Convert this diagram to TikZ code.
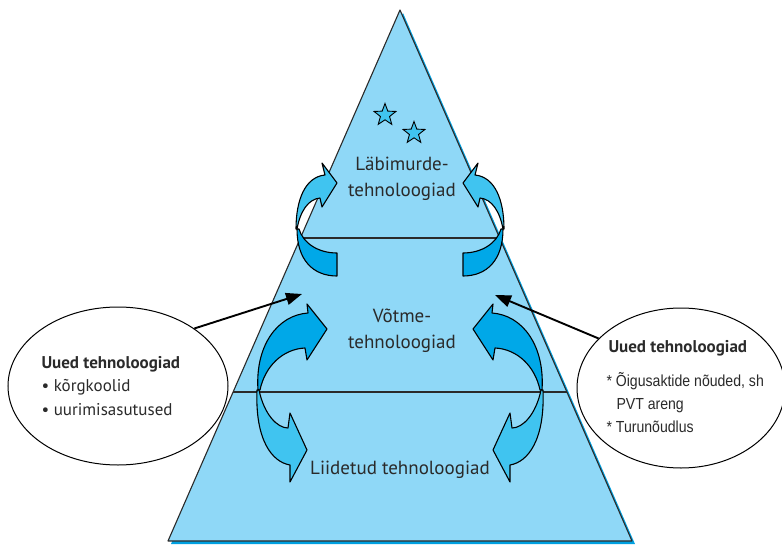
\documentclass[tikz,border=0pt]{standalone}
\usepackage{fontspec}
\setmainfont{PT Sans}
\newfontfamily\narrowfont[FakeStretch=0.88]{Liberation Sans}
\usetikzlibrary{shapes.geometric,arrows.meta}
\definecolor{tri}{HTML}{8FD8F7}
\definecolor{shadowblue}{HTML}{00A0E0}
\definecolor{arrD}{HTML}{00A8E8}
\definecolor{arrL}{HTML}{40C4F0}
\definecolor{outl}{HTML}{2A2A2A}
\newcommand{\curvedpair}{%
  % upper ring arrow: back (light) part
  \path[lightarrow] (297,229) .. controls (300,212) and (308,199) .. (320,198)
     -- (322,207) -- (337,183) -- (322,163) -- (325,175)
     .. controls (305,177) and (296,200) .. (296,229) -- cycle;
  % upper ring arrow: front (dark) part
  \path[darkarrow] (297,229) .. controls (297,260) and (313,276) .. (337,276)
     -- (337,253) .. controls (318,253) and (303,243) .. (299,229) -- cycle;
  % middle arrow going up (dark)
  \path[darkarrow] (258,390) .. controls (255,345) and (278,315) .. (308,313)
     -- (307,304) -- (327,329) -- (307,360) -- (305,348)
     .. controls (283,349) and (265,366) .. (260,390) -- cycle;
  % lower arrow going down (light)
  \path[lightarrow] (257,390) .. controls (255,440) and (272,462) .. (290,465)
     -- (290,482) -- (307,450) -- (290,413) -- (288,428)
     .. controls (277,428) and (264,414) .. (259,390) -- cycle;
}
\begin{document}
\begin{tikzpicture}[x=1pt,y=-1pt,
  darkarrow/.style={fill=arrD, draw=black, line width=1.1pt, line join=round},
  lightarrow/.style={fill=arrL, draw=black, line width=1.1pt, line join=round},
  bubble/.style={ellipse, draw=black, line width=1pt, fill=white, inner sep=0pt},
  pointer/.style={line width=1.9pt, draw=black, -{Triangle[length=16pt,width=12pt]}},
  midtext/.style={align=center, text=outl, font=\fontsize{19}{26}\selectfont},
  bubtext/.style={anchor=west, align=left, text=outl, font=\fontsize{17}{23.5}\selectfont},
  starmark/.style={star, star points=5, star point ratio=2.4, minimum size=23pt,
    inner sep=0pt, draw=black, fill=arrL, line width=0.9pt}]
\useasboundingbox (0,0) rectangle (782,546);
% pyramid with shadow
\fill[shadowblue] (403,13) -- (635,544) -- (171,544) -- cycle;
\draw[fill=tri, draw=outl, line width=1.1pt, line join=round] (400,10) -- (632,541) -- (168,541) -- cycle;
\draw[outl, line width=1.1pt] (300.4,238) -- (499.6,238);
\draw[outl, line width=1.1pt] (233.1,392) -- (566.9,392);
% curved arrows
\curvedpair
\begin{scope}[xshift=800pt, xscale=-1]
\curvedpair
\end{scope}
% texts in the pyramid
\node[midtext] (top) at (402,179) {Läbimurde-\\tehnoloogiad};
\node[midtext] (key) at (402,331) {Võtme-\\tehnoloogiad};
\node[midtext] (base) at (400,470) {Liidetud tehnoloogiad};
\node[starmark] (s1) at (385,115) {};
\node[starmark] (s2) at (414,133) {};
% bubbles
\node[bubble, minimum width=220pt, minimum height=158pt] (lell) at (118,386) {};
\node[bubble, minimum width=208pt, minimum height=160pt] (rell) at (681,388) {};
\node[bubtext] (ltext) at (38,386) {\textbf{Uued tehnoloogiad}\\• kõrgkoolid\\• uurimisasutused};
\node[bubtext] (rhead) at (605,348) {\textbf{Uued tehnoloogiad}};
\node[anchor=west, align=left, text=outl, font=\narrowfont\fontsize{16}{23}\selectfont] (rbody) at (603,403)
  {* Õigusaktide nõuded, sh\\\hspace*{10pt}PVT areng\\* Turunõudlus};
% pointers
\coordinate (ltip) at (302,294);
\coordinate (rtip) at (495,295);
\draw[pointer] (lell.37) -- (ltip);
\draw[pointer] (rell.149) -- (rtip);
\end{tikzpicture}
\end{document}
